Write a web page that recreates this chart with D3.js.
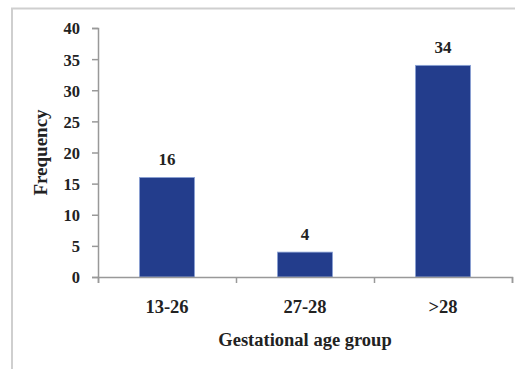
<!DOCTYPE html>
<html>
<head>
<meta charset="utf-8">
<script src="https://cdn.jsdelivr.net/npm/d3@7"></script>
<style>
  body { margin: 0; background: #fff; }
  svg text { font-family: "Liberation Serif", "Times New Roman", serif; font-weight: bold; fill: #222; }
  .axis path, .axis line { stroke: #999; stroke-width: 1.5; }
</style>
</head>
<body>
<div id="chart"></div>
<script>
'use strict';

// data
const categories = ['13-26', '27-28', '>28'];
const frequency = [16, 4, 34];
const y_ticks = [0, 5, 10, 15, 20, 25, 30, 35, 40];

const svg_width = 515, svg_height = 369;
const margin = [28, 92, 98, 3];   // top, bottom, left, right

const chart_width = svg_width - margin[2] - margin[3];
const chart_height = svg_height - margin[0] - margin[1];

const svg = d3.select('#chart')
    .append('svg')
    .attr('width', svg_width)
    .attr('height', svg_height);

// outer frame (top and left edges visible)
svg.append('path')
    .attr('d', `M12,${svg_height} L12,8.5 L${svg_width},8.5`)
    .attr('fill', 'none')
    .attr('stroke', '#cfcfcf')
    .attr('stroke-width', 2);

const chart = svg.append('g')
    .attr('transform', `translate(${margin[2]},${margin[0]})`);

const scale_x = d3.scaleBand()
    .domain(categories)
    .range([0, chart_width])
    .paddingInner(0.6)
    .paddingOuter(0.3);

const scale_y = d3.scaleLinear()
    .domain([0, 40])
    .range([chart_height, 0]);

// bars
chart.selectAll('rect.bar')
    .data(categories)
    .join('rect')
    .classed('bar', true)
    .attr('x', d => scale_x(d))
    .attr('width', scale_x.bandwidth())
    .attr('y', (d, i) => scale_y(frequency[i]))
    .attr('height', (d, i) => chart_height - scale_y(frequency[i]))
    .attr('fill', '#233d8c')
    .attr('stroke', '#8fa6d8')
    .attr('stroke-width', 0.8);

// value labels
chart.selectAll('text.value')
    .data(categories)
    .join('text')
    .classed('value', true)
    .attr('x', d => scale_x(d) + scale_x.bandwidth() / 2)
    .attr('y', (d, i) => scale_y(frequency[i]) - 12)
    .attr('text-anchor', 'middle')
    .style('font-size', '17px')
    .text((d, i) => frequency[i]);

// y axis
const axis_y = chart.append('g')
    .classed('axis', true)
    .call(d3.axisLeft(scale_y).tickValues(y_ticks).tickSize(6).tickPadding(12));
axis_y.selectAll('text').style('font-size', '16.5px').attr('fill', '#222').attr('dy', '0.36em');

// x axis: ticks sit between categories, so draw it with a linear scale over the band edges
const edge_x = d3.scaleLinear().domain([0, categories.length]).range([0, chart_width]);
chart.append('g')
    .classed('axis', true)
    .attr('transform', `translate(0,${chart_height})`)
    .call(d3.axisBottom(edge_x).ticks(categories.length).tickSize(6).tickFormat(''));

chart.selectAll('text.cat')
    .data(categories)
    .join('text')
    .classed('cat', true)
    .attr('x', d => scale_x(d) + scale_x.bandwidth() / 2)
    .attr('y', chart_height + 36)
    .attr('text-anchor', 'middle')
    .style('font-size', '18.5px')
    .text(d => d);

// axis titles
svg.append('text')
    .attr('x', margin[2] + chart_width / 2)
    .attr('y', 346)
    .attr('text-anchor', 'middle')
    .style('font-size', '18.5px')
    .text('Gestational age group');

svg.append('text')
    .attr('transform', 'rotate(-90)')
    .attr('x', -(margin[0] + chart_height / 2))
    .attr('y', 47)
    .attr('text-anchor', 'middle')
    .style('font-size', '19px')
    .text('Frequency');
</script>
</body>
</html>
